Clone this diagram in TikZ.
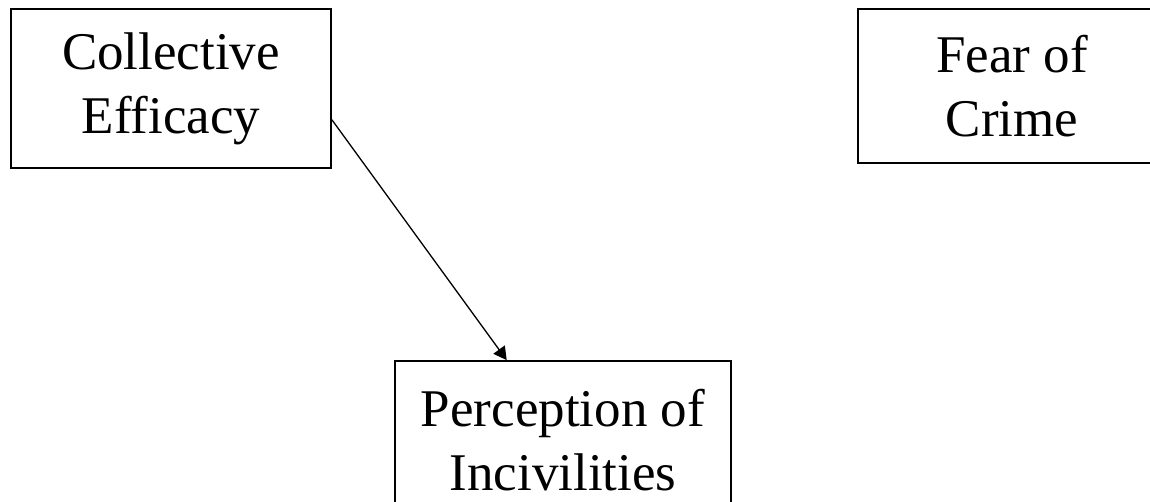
\documentclass[tikz,border=0pt]{standalone}
\usepackage{fontspec}
\setmainfont{Liberation Serif}
\usetikzlibrary{arrows.meta,positioning}
\tikzset{
	factor/.style={draw, line width=1.8pt, align=center, inner sep=0pt, font=\fontsize{53}{64}\selectfont},
	path/.style={line width=1.3pt, -{Triangle[length=13pt,width=14pt]}}
}

\begin{document}
\begin{tikzpicture}[x=1pt,y=-1pt]
	\useasboundingbox (0,0) rectangle (1150,502);
	\node [factor, minimum width=320pt, minimum height=159pt] (ce) at (171,88.5) {Collective\\Efficacy};
	\node [factor, minimum width=308pt, minimum height=154pt] (fc) at (1012,86) {Fear of\\Crime};
	\node [factor, minimum width=336pt, minimum height=159pt] (pi) at (563,440.5) {Perception of\\Incivilities};
	\draw [path] (ce.-11.8) -- (pi.125.6);
\end{tikzpicture}
\end{document}
